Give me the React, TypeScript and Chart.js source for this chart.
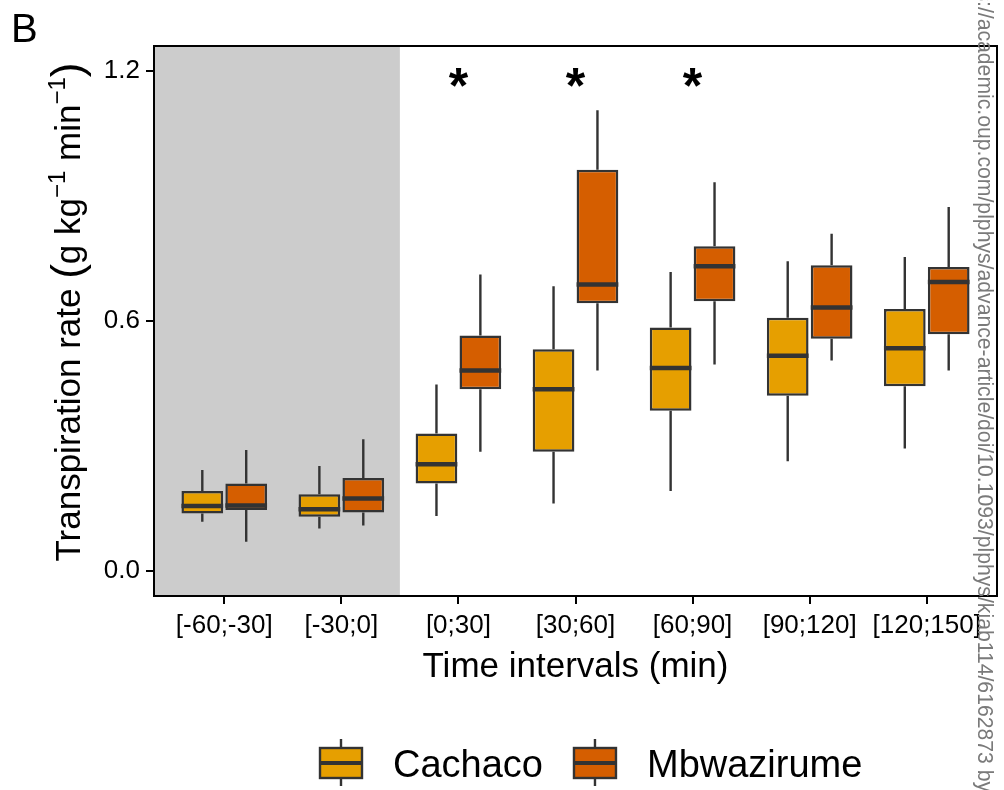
import React, { useEffect, useRef } from "react";
import { Chart, registerables } from "chart.js";

Chart.register(...registerables);

// ---------- data ----------
const categories = ["[-60;-30]", "[-30;0]", "[0;30]", "[30;60]", "[60;90]", "[90;120]", "[120;150]"];
const seriesNames = ["Cachaco", "Mbwazirume"];

const cachacoMin = [0.118, 0.102, 0.132, 0.162, 0.192, 0.263, 0.294];
const cachacoQ1 = [0.138, 0.13, 0.21, 0.286, 0.384, 0.42, 0.443];
const cachacoMedian = [0.156, 0.148, 0.256, 0.436, 0.487, 0.516, 0.534];
const cachacoQ3 = [0.192, 0.184, 0.33, 0.532, 0.584, 0.607, 0.628];
const cachacoMax = [0.242, 0.252, 0.447, 0.683, 0.717, 0.743, 0.753];

const mbwaMin = [0.07, 0.109, 0.286, 0.481, 0.495, 0.505, 0.481];
const mbwaQ1 = [0.146, 0.14, 0.436, 0.642, 0.647, 0.557, 0.568];
const mbwaMedian = [0.157, 0.174, 0.481, 0.687, 0.731, 0.632, 0.693];
const mbwaQ3 = [0.21, 0.223, 0.565, 0.962, 0.779, 0.733, 0.729];
const mbwaMax = [0.29, 0.316, 0.711, 1.105, 0.932, 0.809, 0.873];

const yTickValues = [0, 0.6, 1.2];
const significantCategories = [2, 3, 4];
const starLevel = 1.175;
const shadedUntil = 1.5; // pre-treatment period ends between [-30;0] and [0;30]

const xTitle = "Time intervals (min)";
const panelLabel = "B";
const watermarkText =
  "Downloaded from https://academic.oup.com/plphys/advance-article/doi/10.1093/plphys/kiab114/6162873 by guest on 01 April 2021";

// ---------- style ----------
const FONT = "'Liberation Sans', Arial, Helvetica, sans-serif";
const colors = ["#E69F00", "#D55E00"];
const lineColor = "#333333";

const extrasPlugin = {
  id: "boxExtras",
  beforeDatasetsDraw(chart: any) {
    const { ctx, chartArea, scales } = chart;
    const x = scales.x;
    const y = scales.y;
    ctx.save();
    // shaded pre-treatment region
    ctx.fillStyle = "#cccccc";
    const xr = x.getPixelForValue(shadedUntil);
    ctx.fillRect(chartArea.left, chartArea.top, xr - chartArea.left, chartArea.bottom - chartArea.top);
    // whiskers
    ctx.strokeStyle = lineColor;
    ctx.lineWidth = 2.4;
    chart.data.datasets.forEach((ds: any, di: number) => {
      const meta = chart.getDatasetMeta(di);
      meta.data.forEach((el: any, i: number) => {
        const cx = el.x;
        ctx.beginPath();
        ctx.moveTo(cx, y.getPixelForValue(ds.whiskerHigh[i]));
        ctx.lineTo(cx, y.getPixelForValue(ds.q3[i]));
        ctx.moveTo(cx, y.getPixelForValue(ds.q1[i]));
        ctx.lineTo(cx, y.getPixelForValue(ds.whiskerLow[i]));
        ctx.stroke();
      });
    });
    ctx.restore();
  },
  afterDatasetsDraw(chart: any) {
    const { ctx, chartArea, scales } = chart;
    const x = scales.x;
    const y = scales.y;
    ctx.save();
    // medians
    ctx.strokeStyle = lineColor;
    ctx.lineWidth = 4.5;
    chart.data.datasets.forEach((ds: any, di: number) => {
      const meta = chart.getDatasetMeta(di);
      meta.data.forEach((el: any, i: number) => {
        const py = y.getPixelForValue(ds.median[i]);
        ctx.beginPath();
        ctx.moveTo(el.x - el.width / 2, py);
        ctx.lineTo(el.x + el.width / 2, py);
        ctx.stroke();
      });
    });
    // panel frame
    ctx.strokeStyle = "#000000";
    ctx.lineWidth = 2;
    ctx.strokeRect(chartArea.left, chartArea.top, chartArea.right - chartArea.left, chartArea.bottom - chartArea.top);
    // significance stars
    ctx.fillStyle = "#000000";
    ctx.font = `bold 50px ${FONT}`;
    ctx.textAlign = "center";
    ctx.textBaseline = "alphabetic";
    significantCategories.forEach((c) => {
      ctx.fillText("*", x.getPixelForValue(c), y.getPixelForValue(starLevel) + 22);
    });
    ctx.restore();
  },
  afterDraw(chart: any) {
    const { ctx, chartArea } = chart;
    ctx.save();
    ctx.fillStyle = "#000000";
    // panel letter
    ctx.font = `40px ${FONT}`;
    ctx.textAlign = "left";
    ctx.textBaseline = "alphabetic";
    ctx.fillText(panelLabel, 11, 42);

    // x title
    ctx.font = `35px ${FONT}`;
    ctx.textAlign = "center";
    ctx.fillText(xTitle, (chartArea.left + chartArea.right) / 2, 677);

    // y title with superscripts
    const pieces = [
      { t: "Transpiration rate ", f: `35px ${FONT}`, dy: 0 },
      { t: "(", f: `44px ${FONT}`, dy: 2 },
      { t: "g kg", f: `35px ${FONT}`, dy: 0 },
      { t: "\u22121", f: `24px ${FONT}`, dy: -15 },
      { t: " min", f: `35px ${FONT}`, dy: 0 },
      { t: "\u22121", f: `24px ${FONT}`, dy: -15 },
      { t: ")", f: `44px ${FONT}`, dy: 2 },
    ];
    let total = 0;
    const widths = pieces.map((p) => {
      ctx.font = p.f;
      const w = ctx.measureText(p.t).width;
      total += w;
      return w;
    });
    const cy = (chartArea.top + chartArea.bottom) / 2 - 9;
    ctx.translate(80, cy);
    ctx.rotate(-Math.PI / 2);
    ctx.textAlign = "left";
    let px = -total / 2;
    pieces.forEach((p, i) => {
      ctx.font = p.f;
      ctx.fillText(p.t, px, p.dy);
      px += widths[i];
    });
    ctx.setTransform(1, 0, 0, 1, 0, 0);

    // legend
    ctx.font = `38px ${FONT}`;
    ctx.textAlign = "left";
    let lx = 320;
    const boxW = 42;
    const boxTop = 748;
    const boxBottom = 778;
    seriesNames.forEach((name, i) => {
      const cx = lx + boxW / 2;
      ctx.strokeStyle = lineColor;
      ctx.lineWidth = 2.4;
      ctx.beginPath();
      ctx.moveTo(cx, 739);
      ctx.lineTo(cx, boxTop);
      ctx.moveTo(cx, boxBottom);
      ctx.lineTo(cx, 786);
      ctx.stroke();
      ctx.fillStyle = colors[i];
      ctx.fillRect(lx, boxTop, boxW, boxBottom - boxTop);
      ctx.strokeRect(lx, boxTop, boxW, boxBottom - boxTop);
      ctx.lineWidth = 4;
      ctx.beginPath();
      ctx.moveTo(lx, (boxTop + boxBottom) / 2);
      ctx.lineTo(lx + boxW, (boxTop + boxBottom) / 2);
      ctx.stroke();
      ctx.fillStyle = "#000000";
      const tx = lx + boxW + 31;
      ctx.fillText(name, tx, 777);
      lx = tx + ctx.measureText(name).width + 31;
    });

    // watermark
    ctx.font = `21.2px ${FONT}`;
    ctx.fillStyle = "#7a7a7a";
    const hidden = ctx.measureText("Downloaded from https").width;
    ctx.translate(978, 0);
    ctx.rotate(Math.PI / 2);
    ctx.textAlign = "left";
    ctx.fillText(watermarkText, 1 - hidden, 0);
    ctx.restore();
  },
};

export default function App() {
  const canvasRef = useRef<HTMLCanvasElement | null>(null);

  useEffect(() => {
    document.body.style.margin = "0";
    const canvas = canvasRef.current;
    if (!canvas) return;

    const makeDataset = (i: number, lo: number[], q1: number[], med: number[], q3: number[], hi: number[]) => ({
      label: seriesNames[i],
      data: categories.map((_, k) => ({ x: k, y: [q1[k], q3[k]] })),
      backgroundColor: colors[i],
      borderColor: lineColor,
      borderWidth: 2.5,
      borderSkipped: false,
      categoryPercentage: 0.75,
      barPercentage: 0.95,
      whiskerLow: lo,
      q1,
      median: med,
      q3,
      whiskerHigh: hi,
    });

    const tickFont = { family: FONT, size: 26 };

    const chart = new Chart(canvas, {
      type: "bar",
      data: {
        datasets: [
          makeDataset(0, cachacoMin, cachacoQ1, cachacoMedian, cachacoQ3, cachacoMax),
          makeDataset(1, mbwaMin, mbwaQ1, mbwaMedian, mbwaQ3, mbwaMax),
        ] as any,
      },
      options: {
        animation: false,
        responsive: false,
        devicePixelRatio: 1,
        layout: { padding: { top: 46, right: 7, bottom: 0, left: 0 } },
        plugins: {
          legend: { display: false },
          tooltip: { enabled: false },
          title: { display: false },
        },
        scales: {
          x: {
            type: "linear",
            offset: false,
            min: -0.6,
            max: 6.6,
            afterBuildTicks: (s: any) => {
              s.ticks = categories.map((_, i) => ({ value: i }));
            },
            afterFit: (s: any) => {
              s.height = 194;
            },
            ticks: {
              callback: (v: any) => categories[Math.round(Number(v))] ?? "",
              font: tickFont,
              color: "#000000",
              padding: 6,
              maxRotation: 0,
              autoSkip: false,
            },
            grid: {
              display: true,
              offset: false,
              drawOnChartArea: false,
              drawTicks: true,
              tickLength: 8,
              color: "#000000",
              lineWidth: 2,
            },
            border: { display: false },
          },
          y: {
            type: "linear",
            min: -0.06,
            max: 1.259,
            afterBuildTicks: (s: any) => {
              s.ticks = yTickValues.map((v) => ({ value: v }));
            },
            afterFit: (s: any) => {
              s.width = 154;
            },
            ticks: {
              callback: (v: any) => Number(v).toFixed(1),
              font: tickFont,
              color: "#000000",
              padding: 6,
            },
            grid: {
              display: true,
              drawOnChartArea: false,
              drawTicks: true,
              tickLength: 8,
              color: "#000000",
              lineWidth: 2,
            },
            border: { display: false },
          },
        },
      } as any,
      plugins: [extrasPlugin],
    });

    return () => {
      chart.destroy();
    };
  }, []);

  return (
    <div style={{ width: 1004, height: 790 }}>
      <canvas ref={canvasRef} width={1004} height={790} style={{ display: "block" }} />
    </div>
  );
}
